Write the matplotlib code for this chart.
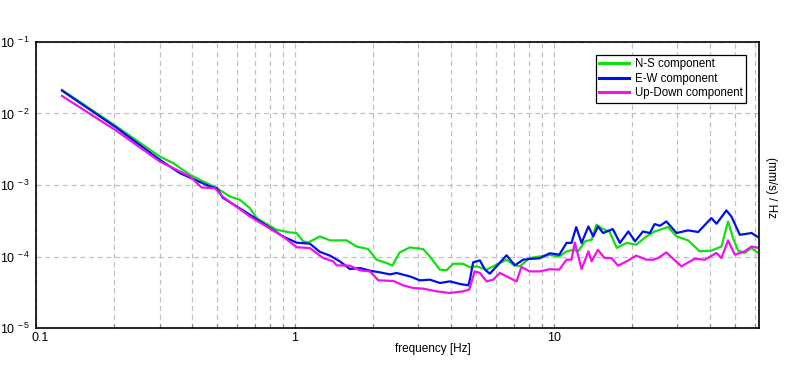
import matplotlib
matplotlib.use("Agg")
import matplotlib.pyplot as plt
from matplotlib.ticker import FixedLocator, NullFormatter, LogLocator
from matplotlib.transforms import ScaledTranslation

plt.rcParams["font.family"] = ["Liberation Sans", "DejaVu Sans"]
plt.rcParams["mathtext.fontset"] = "custom"
plt.rcParams["mathtext.rm"] = "Liberation Sans"
plt.rcParams["mathtext.default"] = "regular"

# ---- data (frequency in Hz, PSD values) ----
green_f = [0.126, 0.205, 0.301, 0.339, 0.393, 0.499, 0.561, 0.613, 0.670, 0.711,
           0.850, 0.957, 1.015, 1.077, 1.126, 1.249, 1.365, 1.584, 1.730, 1.919,
           2.068, 2.26, 2.38, 2.54, 2.78, 3.13, 3.32, 3.63, 3.85, 4.09,
           4.47, 4.74, 5.03, 5.50, 5.83, 6.57, 6.97, 7.39, 8.07, 8.57,
           9.65, 10.5, 11.2, 11.9, 12.4, 13.2, 14.0, 14.6, 15.5, 16.4,
           17.5, 19.1, 20.8, 22.8, 24.5, 27.6, 29.8, 33.0, 36.6, 40.6,
           44.4, 47.1, 49.2, 51.5, 54.6, 58.0, 61.5]
green_v = [2.14e-2, 6.56e-3, 2.50e-3, 2.02e-3, 1.39e-3, 9.05e-4, 6.91e-4, 6.21e-4, 4.75e-4, 3.45e-4,
           2.37e-4, 2.17e-4, 2.13e-4, 1.63e-4, 1.57e-4, 1.91e-4, 1.68e-4, 1.68e-4, 1.38e-4, 1.27e-4,
           9.02e-5, 8.11e-5, 7.45e-5, 1.14e-4, 1.34e-4, 1.27e-4, 1.00e-4, 6.55e-5, 6.40e-5, 7.93e-5,
           7.90e-5, 7.05e-5, 7.28e-5, 6.55e-5, 7.28e-5, 9.02e-5, 7.67e-5, 7.28e-5, 9.53e-5, 9.84e-5,
           1.05e-4, 1.00e-4, 1.18e-4, 1.24e-4, 1.18e-4, 1.63e-4, 1.72e-4, 2.78e-4, 2.42e-4, 2.24e-4,
           1.32e-4, 1.55e-4, 1.46e-4, 1.91e-4, 2.24e-4, 2.58e-4, 1.91e-4, 1.68e-4, 1.18e-4, 1.21e-4,
           1.38e-4, 3.09e-4, 1.81e-4, 1.21e-4, 1.12e-4, 1.32e-4, 1.12e-4]

blue_f = [0.126, 0.205, 0.301, 0.359, 0.470, 0.499, 0.527, 0.670, 0.899, 0.957,
          1.015, 1.045, 1.143, 1.249, 1.365, 1.492, 1.631, 1.782, 1.948, 2.13,
          2.33, 2.47, 2.78, 3.04, 3.32, 3.63, 3.97, 4.34, 4.67, 4.74,
          4.88, 5.18, 5.42, 5.66, 6.01, 6.57, 7.07, 7.61, 8.07, 8.83,
          9.65, 10.5, 11.2, 11.7, 12.2, 12.8, 13.6, 14.2, 14.8, 15.5,
          16.9, 18.0, 19.4, 20.6, 22.1, 23.5, 24.5, 25.7, 27.2, 29.8,
          33.0, 36.1, 40.6, 42.5, 46.4, 48.5, 52.3, 58.0, 61.5]
blue_v = [2.09e-2, 6.30e-3, 2.25e-3, 1.47e-3, 9.52e-4, 9.05e-4, 6.62e-4, 3.84e-4, 1.91e-4, 1.72e-4,
          1.56e-4, 1.55e-4, 1.51e-4, 1.16e-4, 1.03e-4, 8.55e-5, 6.68e-5, 6.90e-5, 6.34e-5, 6.00e-5,
          5.62e-5, 5.88e-5, 5.27e-5, 4.64e-5, 4.74e-5, 4.26e-5, 4.49e-5, 4.13e-5, 3.95e-5, 4.74e-5,
          8.28e-5, 8.83e-5, 6.55e-5, 5.75e-5, 7.28e-5, 1.04e-4, 7.52e-5, 9.02e-5, 9.23e-5, 9.46e-5,
          1.11e-4, 1.06e-4, 1.55e-4, 1.55e-4, 2.58e-4, 1.55e-4, 2.63e-4, 1.91e-4, 2.63e-4, 2.13e-4,
          2.42e-4, 1.55e-4, 2.24e-4, 1.63e-4, 2.24e-4, 2.13e-4, 2.84e-4, 2.69e-4, 3.09e-4, 2.13e-4,
          2.32e-4, 2.20e-4, 3.45e-4, 2.87e-4, 4.41e-4, 3.63e-4, 2.01e-4, 2.13e-4, 1.87e-4]

updown_f = [0.126, 0.205, 0.301, 0.393, 0.436, 0.491, 0.527, 0.670, 0.899, 0.957,
            1.015, 1.143, 1.286, 1.406, 1.449, 1.631, 1.782, 1.948, 2.10, 2.40,
            2.62, 2.86, 3.13, 3.52, 3.97, 4.47, 4.71, 4.95, 5.18, 5.50,
            5.83, 6.19, 6.76, 7.18, 7.50, 8.07, 8.83, 9.65, 10.5, 11.2,
            11.7, 12.05, 12.8, 13.6, 14.0, 14.8, 15.7, 16.7, 17.7, 19.1,
            20.8, 22.8, 24.2, 25.3, 27.2, 31.1, 35.0, 38.3, 42.5, 44.4,
            47.1, 50.0, 54.6, 58.0, 61.5]
updown_v = [1.76e-2, 5.71e-3, 2.13e-3, 1.32e-3, 9.23e-4, 9.05e-4, 6.84e-4, 3.63e-4, 1.91e-4, 1.60e-4,
            1.35e-4, 1.31e-4, 9.53e-5, 8.55e-5, 7.52e-5, 7.45e-5, 6.40e-5, 6.19e-5, 4.64e-5, 4.55e-5,
            3.95e-5, 3.63e-5, 3.55e-5, 3.26e-5, 3.09e-5, 3.26e-5, 3.44e-5, 6.19e-5, 5.89e-5, 4.49e-5,
            4.74e-5, 5.89e-5, 5.01e-5, 4.49e-5, 7.13e-5, 6.19e-5, 6.19e-5, 6.65e-5, 6.55e-5, 9.02e-5,
            9.02e-5, 1.57e-4, 6.68e-5, 1.18e-4, 8.55e-5, 1.24e-4, 9.53e-5, 9.53e-5, 7.45e-5, 8.55e-5,
            1.03e-4, 9.02e-5, 9.02e-5, 9.53e-5, 1.14e-4, 7.28e-5, 9.31e-5, 9.02e-5, 1.12e-4, 9.53e-5,
            1.68e-4, 1.06e-4, 1.18e-4, 1.38e-4, 1.32e-4]

labels = ["N-S component", "E-W component", "Up-Down component"]
xticks = [0.1, 1, 10]
xtick_labels = ["0.1", "1", "10"]
yticks = [1e-5, 1e-4, 1e-3, 1e-2, 1e-1]
ytick_labels = ["10$^{\\,-5}$", "10$^{\\,-4}$", "10$^{\\,-3}$", "10$^{\\,-2}$", "10$^{\\,-1}$"]

# ---- figure ----
fig = plt.figure(figsize=(7.96, 3.70), dpi=100)
ax = fig.add_axes([0.0452, 0.1135, 0.9083, 0.773])

ax.plot(green_f, green_v, color="#10e010", lw=1.6, label=labels[0])
ax.plot(blue_f, blue_v, color="#0010e8", lw=1.6, label=labels[1])
ax.plot(updown_f, updown_v, color="#f010f0", lw=1.6, label=labels[2])

ax.set_xscale("log")
ax.set_yscale("log")
ax.set_xlim(0.1, 62)
ax.set_ylim(1e-5, 1e-1)

ax.xaxis.set_major_locator(FixedLocator(xticks))
ax.set_xticklabels(xtick_labels)
ax.xaxis.set_minor_locator(LogLocator(base=10, subs=range(2, 10)))
ax.xaxis.set_minor_formatter(NullFormatter())
ax.yaxis.set_major_locator(FixedLocator(yticks))
ax.set_yticklabels(ytick_labels)
ax.yaxis.set_minor_locator(FixedLocator([]))

ax.tick_params(axis="x", which="both", direction="in", length=3, width=0.8,
               color="#808080", labelsize=9, pad=3)
ax.tick_params(axis="y", which="both", length=0, labelsize=9, pad=4)

# nudge "0.1" a little right so it clears the 10^-5 label (as in the original)
first = ax.get_xticklabels()[0]
first.set_transform(first.get_transform() + ScaledTranslation(4 / 100, 0, fig.dpi_scale_trans))

ax.grid(True, axis="x", which="both", color="#c0c0c0", ls=(0, (4, 3)), lw=0.9)
ax.grid(True, axis="y", which="major", color="#c0c0c0", ls=(0, (4, 3)), lw=0.9)

for sp in ax.spines.values():
    sp.set_linewidth(1.2)
    sp.set_color("black")

ax.set_xlabel("frequency [Hz]", fontsize=8.5)
ax.xaxis.set_label_coords(0.549, -0.052)

ax.text(1.017, 0.49, "(mm/s) / Hz", transform=ax.transAxes, rotation=270,
        ha="center", va="center", fontsize=8.5)

leg = ax.legend(loc="upper right", bbox_to_anchor=(0.982, 0.9545), borderaxespad=0,
                fontsize=8.3, frameon=True, fancybox=False, framealpha=1,
                edgecolor="black", handlelength=2.6, handletextpad=0.45,
                labelspacing=0.2, borderpad=0.3)
leg.get_frame().set_linewidth(0.9)
for line in leg.get_lines():
    line.set_linewidth(2.2)

fig.savefig("out.png", dpi=100)
